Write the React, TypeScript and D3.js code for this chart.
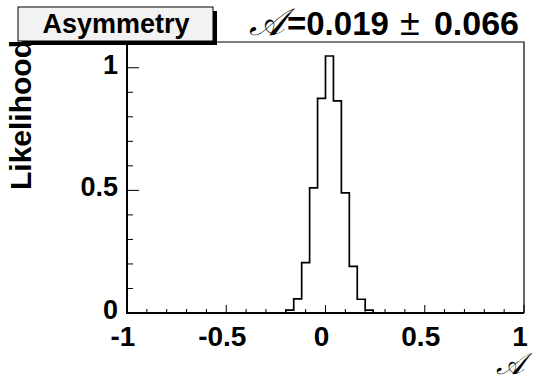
import React, { useEffect, useRef } from 'react'
import * as d3 from 'd3'

// likelihood scan over the asymmetry, 0.04 wide bins, only non-empty bins listed
const binLow = [-0.2, -0.16, -0.12, -0.08, -0.04, 0.0, 0.04, 0.08, 0.12, 0.16, 0.2]
const likelihood = [0.012, 0.058, 0.205, 0.51, 0.875, 1.048, 0.865, 0.49, 0.19, 0.056, 0.012]
const binWidth = 0.04

const xMajor = [-1, -0.5, 0, 0.5, 1]
const xMajorLabels = ['-1', '-0.5', '0', '0.5', '1']
const yMajor = [0, 0.5, 1]
const yMajorLabels = ['0', '0.5', '1']

const titleText = 'Asymmetry'
const fitValue = '=0.019'
const fitError = '0.066'

const W = 536
const H = 382
const frame = { left: 127, right: 524, top: 42, bottom: 313 }
const FONT = '"Liberation Sans", Arial, Helvetica, sans-serif'
const SCRIPT = '"DejaVu Serif", serif'

const App = () => {
  const ref = useRef(null)

  useEffect(() => {
    const svg = d3.select(ref.current)
    svg.selectAll('*').remove()

    const x = d3.scaleLinear().domain([-1, 1]).range([frame.left, frame.right])
    const y = d3.scaleLinear().domain([0, 1.105]).range([frame.bottom, frame.top])

    svg.append('rect').attr('width', W).attr('height', H).attr('fill', 'white')

    // frame top/right (thin)
    svg.append('path')
      .attr('d', `M${frame.left},${frame.top}H${frame.right}V${frame.bottom}`)
      .attr('fill', 'none').attr('stroke', 'black').attr('stroke-width', 1.2)

    // histogram outline
    const pts = [{ x: -1, y: 0 }]
    binLow.forEach((b, i) => pts.push({ x: b, y: likelihood[i] }))
    pts.push({ x: binLow[binLow.length - 1] + binWidth, y: 0 })
    pts.push({ x: 1, y: 0 })
    const line = d3.line<any>().x((d) => x(d.x)).y((d) => y(d.y)).curve(d3.curveStepAfter)
    svg.append('path').attr('d', line(pts))
      .attr('fill', 'none').attr('stroke', 'black').attr('stroke-width', 1.7)

    // x axis ticks
    const xMinor = d3.range(-10, 11).map((i) => i / 10)
    svg.append('g').selectAll('line').data(xMinor).enter().append('line')
      .attr('x1', (d) => x(d)).attr('x2', (d) => x(d))
      .attr('y1', frame.bottom)
      .attr('y2', (d) => frame.bottom - (xMajor.includes(d) ? 8 : 4))
      .attr('stroke', 'black').attr('stroke-width', 1)

    // y axis ticks
    const yMinor = d3.range(0, 12).map((i) => i / 10)
    svg.append('g').selectAll('line').data(yMinor).enter().append('line')
      .attr('y1', (d) => y(d)).attr('y2', (d) => y(d))
      .attr('x1', frame.left)
      .attr('x2', (d) => frame.left + (yMajor.includes(d) ? 12 : 6))
      .attr('stroke', 'black').attr('stroke-width', 1)

    // axis lines
    svg.append('path')
      .attr('d', `M${frame.left},${frame.top}V${frame.bottom}H${frame.right}`)
      .attr('fill', 'none').attr('stroke', 'black').attr('stroke-width', 2)

    // tick labels
    svg.append('g').selectAll('text').data(xMajor).enter().append('text')
      .attr('x', (d) => x(d) - 4).attr('y', 346)
      .attr('text-anchor', 'middle')
      .attr('font-family', FONT).attr('font-weight', 'bold').attr('font-size', 28)
      .text((d, i) => xMajorLabels[i])

    svg.append('g').selectAll('text').data(yMajor).enter().append('text')
      .attr('x', 118).attr('y', (d) => y(d) + 6)
      .attr('text-anchor', 'end')
      .attr('font-family', FONT).attr('font-weight', 'bold').attr('font-size', 27)
      .text((d, i) => yMajorLabels[i])

    // axis titles
    svg.append('text')
      .attr('transform', `translate(31,${frame.top - 2}) rotate(-90)`)
      .attr('text-anchor', 'end')
      .attr('font-family', FONT).attr('font-weight', 'bold').attr('font-size', 30)
      .text('Likelihood')

    svg.append('text')
      .attr('x', 524).attr('y', 374)
      .attr('text-anchor', 'end')
      .attr('font-family', SCRIPT).attr('font-style', 'italic').attr('font-size', 30)
      .text('𝒜')

    // title box with shadow
    svg.append('rect').attr('x', 22).attr('y', 11).attr('width', 195).attr('height', 34).attr('fill', 'black')
    svg.append('rect').attr('x', 18).attr('y', 7).attr('width', 195).attr('height', 34)
      .attr('fill', '#f2f2f2').attr('stroke', 'black').attr('stroke-width', 1)
    svg.append('text')
      .attr('x', 116).attr('y', 33)
      .attr('text-anchor', 'middle')
      .attr('font-family', FONT).attr('font-weight', 'bold').attr('font-size', 27)
      .text(titleText)

    // fit result
    svg.append('text')
      .attr('x', 249).attr('y', 35)
      .attr('font-family', SCRIPT).attr('font-style', 'italic').attr('font-size', 38)
      .text('𝒜')
    svg.append('text')
      .attr('x', 287).attr('y', 35)
      .attr('font-family', FONT).attr('font-weight', 'bold').attr('font-size', 33)
      .text(fitValue)
    svg.append('text')
      .attr('x', 400).attr('y', 35)
      .attr('font-family', FONT).attr('font-size', 36)
      .text('±')
    svg.append('text')
      .attr('x', 519).attr('y', 35)
      .attr('text-anchor', 'end')
      .attr('font-family', FONT).attr('font-weight', 'bold').attr('font-size', 34)
      .text(fitError)
  }, [])

  return <svg ref={ref} width={W} height={H} style={{ position: 'absolute', left: 0, top: 0 }} />
}

export default App
